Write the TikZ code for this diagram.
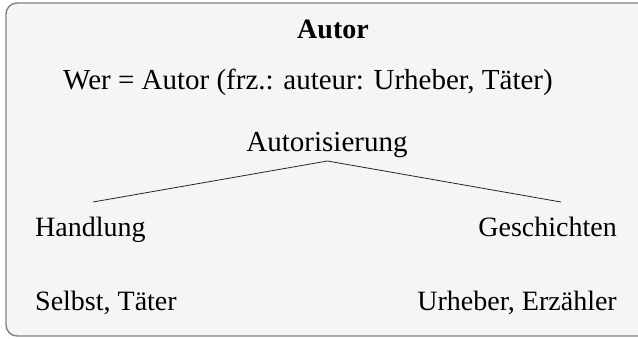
\documentclass[tikz,border=0pt]{standalone}
\usepackage{fontspec}
\setmainfont{Liberation Serif}
\begin{document}
\begin{tikzpicture}[x=1pt,y=-1pt,
  txt/.style={inner sep=0pt, anchor=base, font=\fontsize{28}{32}\selectfont, text=black},
  wide/.style={txt, font=\fontsize{29}{33}\selectfont},
  ttl/.style={txt, font=\fontsize{28}{32}\selectfont\bfseries},
  edge/.style={draw=black!85, line width=0.8pt}]
\useasboundingbox (0,0) rectangle (638,338);
\draw[fill=black!4, draw=black!50, line width=1.4pt, rounded corners=11pt] (6,3) rectangle (660,336);
\node[ttl] (title) at (333,38) {Autor};
\node[wide] (wer) at (308,89) {Wer = Autor (frz.: auteur: Urheber, Täter)};
\node[wide] (aut) at (327,151) {Autorisierung};
\coordinate (top) at (327.5,161);
\coordinate (lend) at (93,202);
\coordinate (rend) at (561,202);
\node[txt, anchor=base west] (hand) at (35,236) {Handlung};
\node[txt, anchor=base east] (gesch) at (617,236) {Geschichten};
\node[txt, anchor=base west] (selbst) at (35,310) {Selbst, Täter};
\node[txt, anchor=base east] (urheber) at (617,310) {Urheber, Erzähler};
\draw[edge] (lend) -- (top) -- (rend);
\end{tikzpicture}
\end{document}
